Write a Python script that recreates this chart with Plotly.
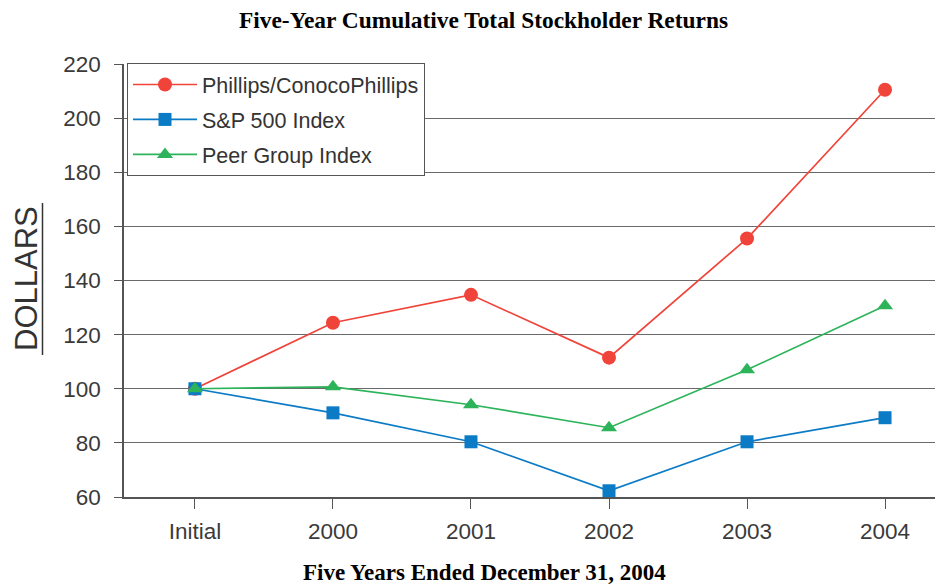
import plotly.graph_objects as go

categories = ["Initial", "2000", "2001", "2002", "2003", "2004"]
phillips = [100, 124.4, 134.7, 111.5, 155.5, 210.5]
sp500 = [100, 91.1, 80.4, 62.3, 80.4, 89.3]
peer = [100, 100.7, 94.1, 85.6, 107.0, 130.7]
y_ticks = [60, 80, 100, 120, 140, 160, 180, 200, 220]

# page body has an 8px margin; size the figure so the plot lands where the reference has it
W, H = 935, 578
L, T, B = 116, 56, 89
PW, PH = W - L, H - T - B  # 819 x 433

fig = go.Figure()
series = [
    ("Phillips/ConocoPhillips", phillips, "#f0443a", "circle", 14),
    ("S&P 500 Index", sp500, "#0b7bc6", "square", 13),
    ("Peer Group Index", peer, "#2db45a", "triangle-up", 14),
]
for name, vals, col, sym, ms in series:
    fig.add_trace(go.Scatter(
        x=list(range(len(categories))), y=vals, name=name, mode="lines+markers",
        legendgroup=name,
        line=dict(color=col, width=1.7),
        marker=dict(color=col, symbol=sym, size=ms),
    ))

def px_x(page_x):
    return (page_x - 8 - L) / PW

def px_y(page_y):
    return (T + PH - (page_y - 8)) / PH

fig.update_layout(
    width=W, height=H,
    margin=dict(l=L, r=0, t=T, b=B),
    plot_bgcolor="white", paper_bgcolor="white",
    font=dict(family="Liberation Sans, Arial", size=21, color="#333"),
    showlegend=True,
    legend=dict(x=px_x(127), y=px_y(63), xanchor="left", yanchor="top",
                bordercolor="#555", borderwidth=1, bgcolor="white",
                font=dict(size=21.5, color="#333"), tracegroupgap=4,
                traceorder="grouped", itemwidth=64),
    xaxis=dict(range=[-0.514, 5.42], tickmode="array",
               tickvals=list(range(len(categories))), ticktext=categories,
               showgrid=False, showline=True, linecolor="#555", linewidth=1.5,
               ticks="outside", ticklen=10, tickcolor="#555", zeroline=False,
               ticklabelstandoff=3,
               tickfont=dict(size=22.5, color="#3a3a3a")),
    yaxis=dict(range=[60, 220], tickvals=y_ticks, showgrid=True,
               gridcolor="#6a6a6a", gridwidth=1.3, showline=True,
               linecolor="#555", linewidth=1.5, ticks="outside", ticklen=8,
               tickcolor="#555", zeroline=False, ticklabelstandoff=9,
               tickfont=dict(size=22.5, color="#3a3a3a")),
    annotations=[
        dict(text="<b>Five-Year Cumulative Total Stockholder Returns</b>",
             xref="paper", yref="paper", x=px_x(483), y=px_y(20),
             xanchor="center", yanchor="middle", showarrow=False,
             font=dict(family="Liberation Serif, Times New Roman", size=23.4, color="#000")),
        dict(text="<b>Five Years Ended December 31, 2004</b>",
             xref="paper", yref="paper", x=px_x(484), y=px_y(572),
             xanchor="center", yanchor="middle", showarrow=False,
             font=dict(family="Liberation Serif, Times New Roman", size=23, color="#000")),
        dict(text="DOLLARS", xref="paper", yref="paper",
             x=px_x(26), y=px_y(279), textangle=-90,
             xanchor="center", yanchor="middle", showarrow=False,
             font=dict(size=31, color="#333")),
    ],
    shapes=[
        dict(type="line", xref="paper", yref="paper",
             x0=px_x(42.5), x1=px_x(42.5),
             y0=px_y(355), y1=px_y(203),
             line=dict(color="#333", width=1.5)),
    ],
)

fig.write_html("out.html")
